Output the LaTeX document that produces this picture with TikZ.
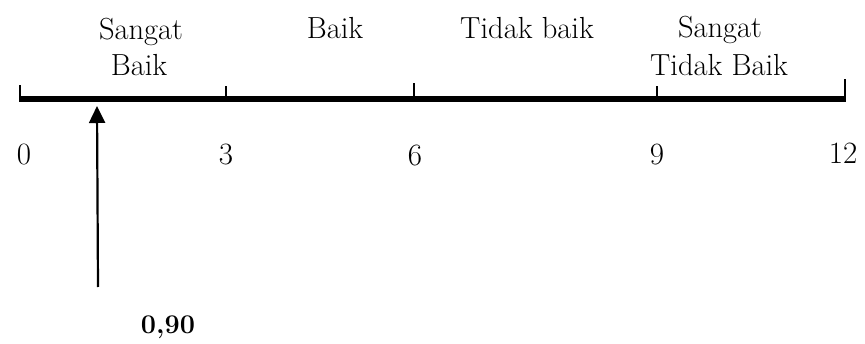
\documentclass[tikz,border=0pt]{standalone}
\usetikzlibrary{arrows.meta}
\begin{document}
\begin{tikzpicture}[x=1pt,y=1pt,
  lbl/.style={font=\fontsize{30.5}{36}\selectfont, inner sep=0pt, anchor=base},
  num/.style={font=\fontsize{31}{37}\selectfont, inner sep=0pt, anchor=base},
  tick/.style={line width=2pt},
  scaleline/.style={line width=6pt}]
\useasboundingbox (0,0) rectangle (865,343);
% scale ends and division points (on the axis)
\coordinate (p0) at (20,244);
\coordinate (p3) at (226,244);
\coordinate (p6) at (414,244);
\coordinate (p9) at (657,244);
\coordinate (p12) at (845,244);
% tops of the tick marks
\coordinate (t0) at (20,258);
\coordinate (t3) at (226,257);
\coordinate (t6) at (414,260);
\coordinate (t9) at (657,257);
\coordinate (t12) at (845,264);
% axis
\draw[scaleline] ([xshift=-1pt]p0) -- ([xshift=1pt]p12);
\foreach \k in {0,3,6,9,12}{
  \draw[tick] (p\k) -- (t\k);
}
% category labels
\node[lbl] (c1a) at (141,303) {Sangat};
\node[lbl] (c1b) at (139,267) {Baik};
\node[lbl] (c2) at (335,304) {Baik};
\node[lbl] (c3) at (527,304) {Tidak baik};
\node[lbl] (c4a) at (720,305) {Sangat};
\node[lbl] (c4b) at (719,267) {Tidak Baik};
% scale values
\node[num] (n0) at (24,178) {0};
\node[num] (n3) at (226,178) {3};
\node[num] (n6) at (415,177) {6};
\node[num] (n9) at (657,178) {9};
\node[num] (n12) at (843,179) {12};
% marker for the obtained score
\coordinate (mfoot) at (98,56);
\coordinate (mtip) at (97,237);
\draw[line width=2.2pt, -{Triangle[length=17pt,width=16pt]}] (mfoot) -- (mtip);
\node[font=\bfseries\fontsize{27}{32}\selectfont, inner sep=0pt, anchor=base] (score) at (168,10) {0,90};
\end{tikzpicture}
\end{document}
